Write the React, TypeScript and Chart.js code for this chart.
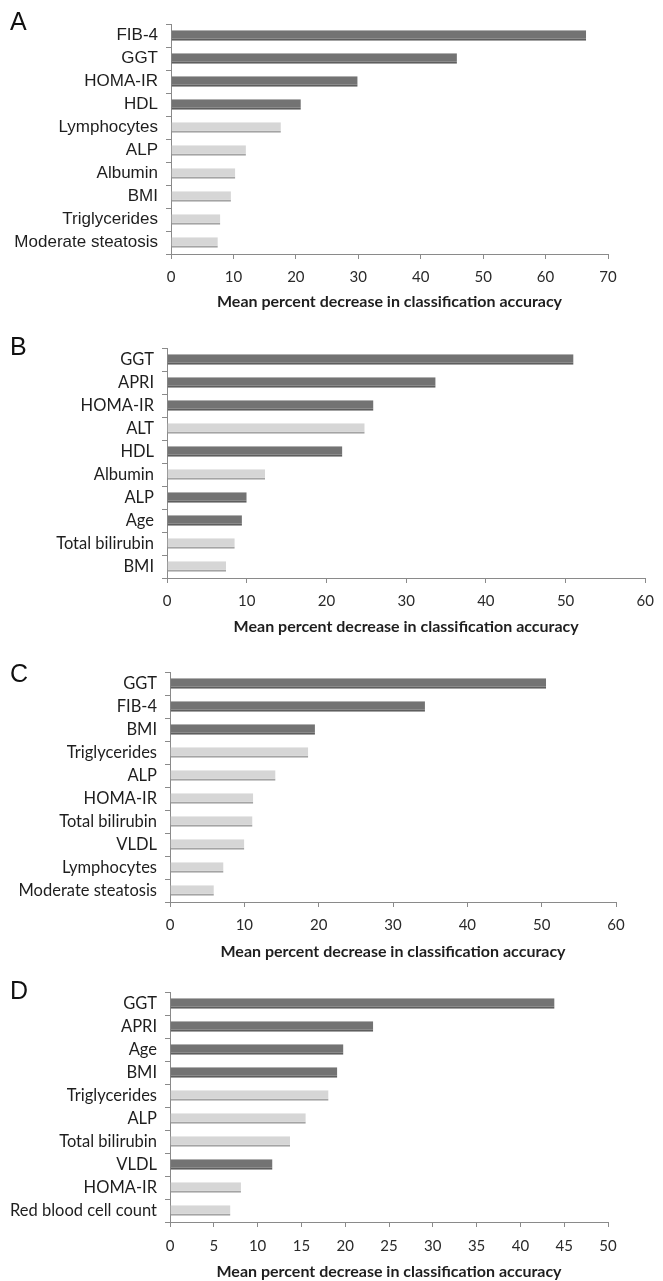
import React, { useEffect, useRef } from 'react';
import { Chart, registerables } from 'chart.js';

Chart.register(...registerables);

// ---------- data ----------
const labelsA = ['FIB-4', 'GGT', 'HOMA-IR', 'HDL', 'Lymphocytes', 'ALP', 'Albumin', 'BMI', 'Triglycerides', 'Moderate steatosis'];
const valuesA = [66.5, 45.8, 29.9, 20.8, 17.6, 12.0, 10.3, 9.6, 7.9, 7.5];
const darkA = [true, true, true, true, false, false, false, false, false, false];

const labelsB = ['GGT', 'APRI', 'HOMA-IR', 'ALT', 'HDL', 'Albumin', 'ALP', 'Age', 'Total bilirubin', 'BMI'];
const valuesB = [51.0, 33.7, 25.9, 24.8, 22.0, 12.3, 10.0, 9.4, 8.5, 7.4];
const darkB = [true, true, true, false, true, false, true, true, false, false];

const labelsC = ['GGT', 'FIB-4', 'BMI', 'Triglycerides', 'ALP', 'HOMA-IR', 'Total bilirubin', 'VLDL', 'Lymphocytes', 'Moderate steatosis'];
const valuesC = [50.6, 34.3, 19.5, 18.6, 14.2, 11.2, 11.1, 10.0, 7.2, 5.9];
const darkC = [true, true, true, false, false, false, false, false, false, false];

const labelsD = ['GGT', 'APRI', 'Age', 'BMI', 'Triglycerides', 'ALP', 'Total bilirubin', 'VLDL', 'HOMA-IR', 'Red blood cell count'];
const valuesD = [43.9, 23.2, 19.8, 19.1, 18.1, 15.5, 13.7, 11.7, 8.1, 6.9];
const darkD = [true, true, true, true, false, false, false, true, false, false];

const axisMax = [70, 60, 60, 50];
const axisStep = [10, 10, 10, 5];
const xTitle = 'Mean percent decrease in classification accuracy';

// ---------- styles ----------
const DARK = '#737373';
const DARK_EDGE = '#5e5e5e';
const LIGHT = '#d6d6d6';
const LIGHT_EDGE = '#a4a4a4';
const AXIS = '#8a8a8a';

type PanelProps = {
  letter: string;
  labels: string[];
  values: number[];
  dark: boolean[];
  max: number;
  step: number;
  top: number;
  height: number;
  left: number;
  right: number;
  plotTop: number;
  plotBottom: number;
  tickY: number;
  titleY: number;
  labelFont: string;
  labelSize: number;
  letterY: number;
};

const TICK_FONT = 'Lato, "Open Sans", sans-serif';
const TICK_SIZE = 15;
const TITLE_SIZE = 16;

function Panel(p: PanelProps) {
  const ref = useRef<HTMLCanvasElement | null>(null);
  useEffect(() => {
    if (!ref.current) return;
    const W = 663;
    const padTop = p.plotTop - p.top;
    const xH = p.top + p.height - p.plotBottom;
    const tickLH = TICK_SIZE * 1.2;
    const tickPad = p.tickY - p.plotBottom - 5 - tickLH / 2;
    const titleLH = TITLE_SIZE * 1.2;
    const titlePadBottom = Math.max(0, p.top + p.height - p.titleY - titleLH / 2);
    const chart = new Chart(ref.current, {
      type: 'bar',
      data: {
        labels: p.labels,
        datasets: [
          {
            data: p.values,
            backgroundColor: p.dark.map((d) => (d ? DARK : LIGHT)),
            borderColor: p.dark.map((d) => (d ? DARK_EDGE : LIGHT_EDGE)),
            borderWidth: { top: 0, right: 0, bottom: 2, left: 0 },
            borderSkipped: false,
            barPercentage: 0.46,
            categoryPercentage: 1.0,
          },
        ],
      },
      options: {
        indexAxis: 'y',
        responsive: false,
        animation: false,
        devicePixelRatio: 1,
        layout: { padding: { top: padTop, right: W - p.right, bottom: 0, left: 0 } },
        plugins: { legend: { display: false }, tooltip: { enabled: false } },
        scales: {
          x: {
            min: 0,
            max: p.max,
            ticks: { stepSize: p.step, font: { family: TICK_FONT, size: TICK_SIZE }, color: '#2a2a2a', padding: tickPad, autoSkip: false },
            grid: { drawOnChartArea: false, drawTicks: true, tickLength: 5, color: AXIS },
            border: { display: true, color: AXIS, width: 1 },
            title: {
              display: true,
              text: xTitle,
              font: { family: 'Lato, "Open Sans", sans-serif', size: TITLE_SIZE, weight: 'bold' },
              color: '#1e1e1e',
              padding: { top: 0, bottom: titlePadBottom },
            },
            afterFit: (s: any) => {
              s.height = xH;
            },
          },
          y: {
            ticks: { font: { family: p.labelFont, size: p.labelSize }, color: '#1e1e1e', padding: 8, autoSkip: false },
            grid: { drawOnChartArea: false, drawTicks: true, tickLength: 5, color: AXIS, offset: true },
            border: { display: true, color: AXIS, width: 1 },
            afterFit: (s: any) => {
              s.width = p.left;
            },
          },
        },
      } as any,
    });
    return () => chart.destroy();
  }, []);
  return (
    <>
      <canvas
        ref={ref}
        width={663}
        height={p.height}
        style={{ position: 'absolute', left: 0, top: p.top, width: 663, height: p.height, display: 'block' }}
      />
      <div
        style={{
          position: 'absolute',
          left: 10,
          top: p.letterY - 15,
          fontFamily: '"Liberation Sans", Arial, sans-serif',
          fontSize: 25,
          lineHeight: '30px',
          color: '#111',
        }}
      >
        {p.letter}
      </div>
    </>
  );
}

export default function App() {
  const sansA = '"Liberation Sans", Arial, sans-serif';
  const sansB = 'Lato, "Open Sans", sans-serif';
  return (
    <div style={{ position: 'absolute', left: 0, top: 0, width: 663, height: 1281, background: '#fff', overflow: 'hidden' }}>
      <Panel
        letter="A"
        labels={labelsA}
        values={valuesA}
        dark={darkA}
        max={axisMax[0]}
        step={axisStep[0]}
        top={0}
        height={318}
        left={171}
        right={608}
        plotTop={24}
        plotBottom={254}
        tickY={277}
        titleY={302}
        labelFont={sansA}
        labelSize={17}
        letterY={21}
      />
      <Panel
        letter="B"
        labels={labelsB}
        values={valuesB}
        dark={darkB}
        max={axisMax[1]}
        step={axisStep[1]}
        top={318}
        height={320}
        left={167}
        right={651}
        plotTop={348}
        plotBottom={578}
        tickY={601}
        titleY={627}
        labelFont={sansB}
        labelSize={16.5}
        letterY={346}
      />
      <Panel
        letter="C"
        labels={labelsC}
        values={valuesC}
        dark={darkC}
        max={axisMax[2]}
        step={axisStep[2]}
        top={638}
        height={324}
        left={170}
        right={616}
        plotTop={672}
        plotBottom={902}
        tickY={925}
        titleY={952}
        labelFont={sansB}
        labelSize={16.5}
        letterY={673}
      />
      <Panel
        letter="D"
        labels={labelsD}
        values={valuesD}
        dark={darkD}
        max={axisMax[3]}
        step={axisStep[3]}
        top={962}
        height={319}
        left={170}
        right={608}
        plotTop={992}
        plotBottom={1222}
        tickY={1246}
        titleY={1272}
        labelFont={sansB}
        labelSize={16.5}
        letterY={990}
      />
    </div>
  );
}
